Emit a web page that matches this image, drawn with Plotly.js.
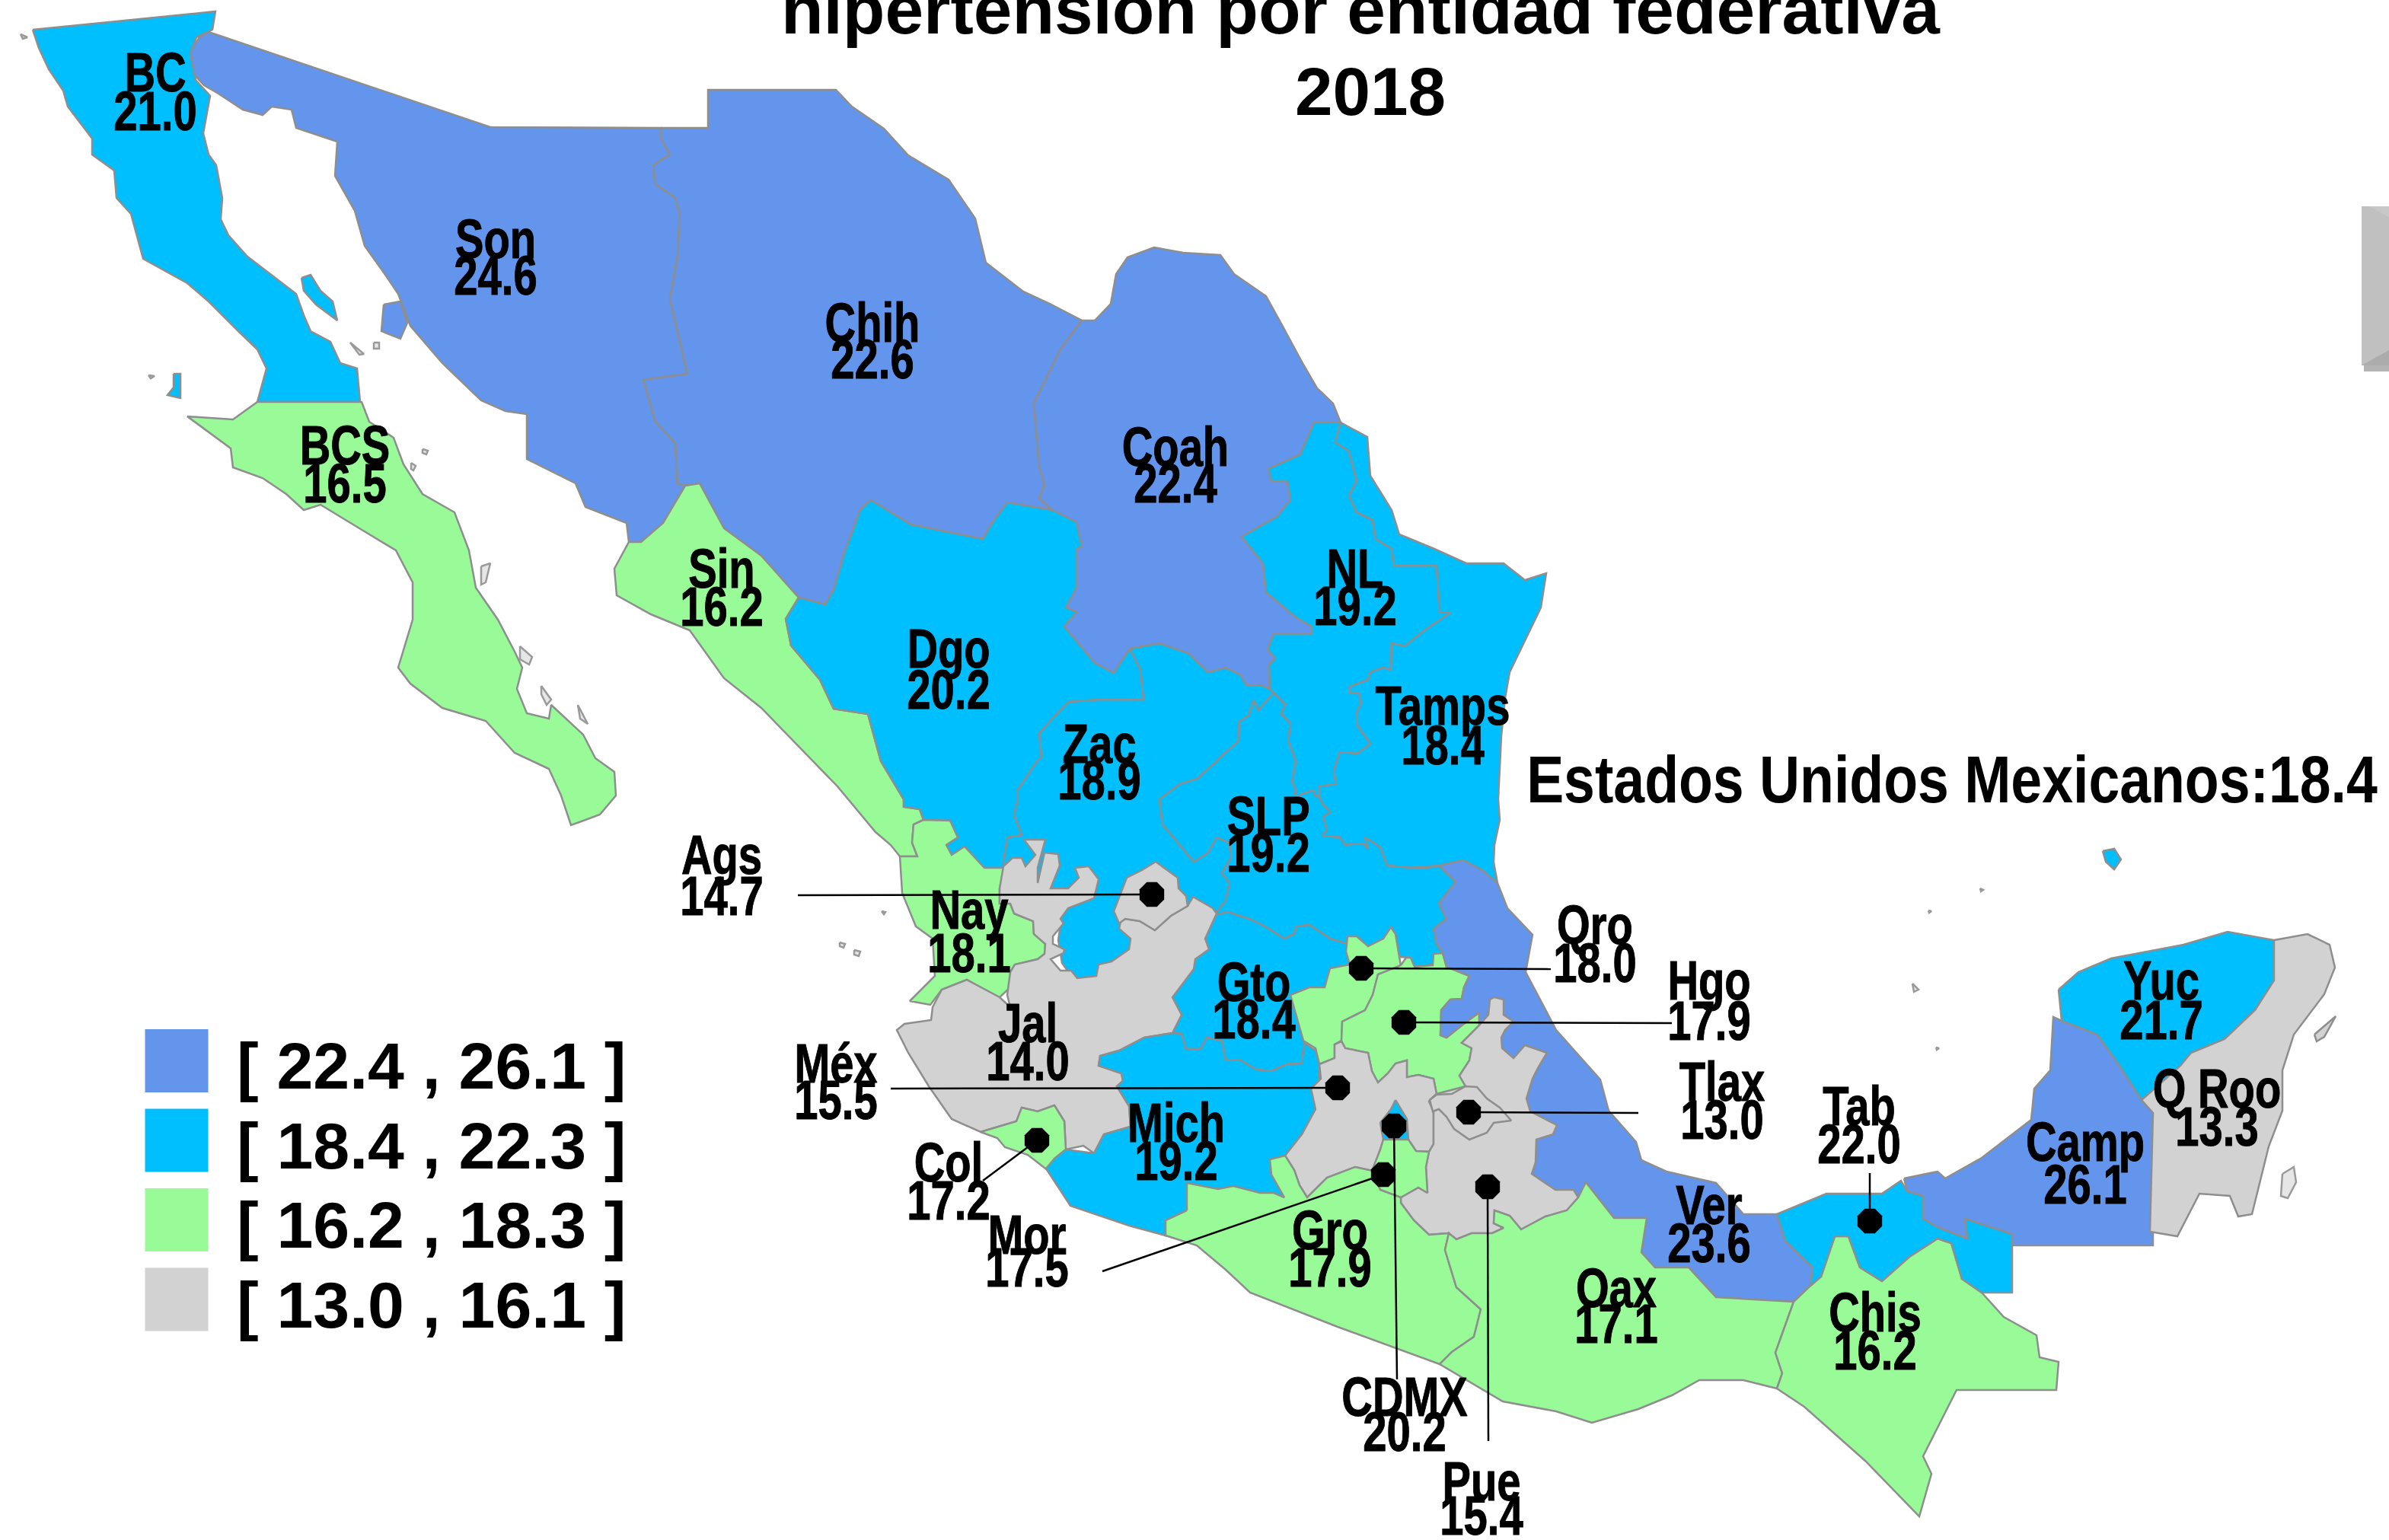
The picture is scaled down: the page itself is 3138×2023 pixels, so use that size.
<!DOCTYPE html>
<html><head><meta charset="utf-8">
<script src="https://cdn.plot.ly/plotly-3.0.1.min.js"></script>
<style>html,body{margin:0;padding:0;background:#fff;overflow:hidden}#chart{width:3138px;height:2023px}</style>
</head><body><div id="chart"></div>
<script>
// Rates by state
const stateCodes  = ["Zac","Son","Chih","Coah","BC","BCS","Sin","Dgo","NL","Tamps","SLP","Gto","Nay","Jal","Ags","Col","Mich","Qro","Hgo","Méx","Ver","Pue","Tlax","CDMX","Mor","Gro","Oax","Chis","Tab","Camp","Yuc","Q Roo"];
const stateValues = [18.9,24.6,22.6,22.4,21.0,16.5,16.2,20.2,19.2,18.4,19.2,18.4,18.1,14.0,14.7,17.2,19.2,18.0,17.9,15.5,23.6,15.4,13.0,20.2,17.5,17.9,17.1,16.2,22.0,26.1,21.7,13.3];

// Legend classes
const classLabels = ["[ 22.4 , 26.1 ]","[ 18.4 , 22.3 ]","[ 16.2 , 18.3 ]","[ 13.0 , 16.1 ]"];
const classMins   = [22.4,18.4,16.2,13.0];
const classColors = ["#6495ED","#00BFFF","#98FB98","#D2D2D2"];

// State outlines (map coordinates), one list of rings per state
const shapeBC = [[[43,39],[283,15],[279,39],[258,49],[250,70],[257,105],[276,126],[267,175],[274,203],[284,217],[292,260],[290,288],[300,309],[325,337],[389,386],[399,414],[408,435],[434,449],[447,477],[469,484],[473,528],[338,528],[350,484],[338,459],[313,435],[274,396],[246,372],[188,340],[172,281],[153,260],[150,224],[121,203],[121,182],[89,140],[83,119],[64,91],[51,63]],
 [[396,365],[408,361],[421,382],[437,396],[443,421],[415,400],[399,382]],[[228,491],[237,491],[237,523],[220,519],[228,509]]];
const shapeSon = [[[274,42],[644,167],[868,168],[868,182],[880,203],[858,217],[861,242],[887,260],[893,281],[890,337],[880,393],[893,449],[903,491],[845,499],[861,554],[887,582],[890,635],[900,638],[871,687],[842,712],[826,712],[823,687],[769,666],[756,635],[692,603],[692,544],[664,540],[632,526],[581,477],[539,428],[523,386],[504,358],[479,323],[466,277],[440,231],[443,186],[389,168],[383,144],[357,140],[345,151],[319,144],[287,123],[268,112],[255,98],[250,67],[262,49]],
 [[504,400],[526,396],[535,424],[526,445],[501,435]]];
const shapeChih = [[[868,168],[930,168],[930,118],[1098,118],[1119,140],[1161,169],[1193,204],[1246,236],[1281,287],[1295,345],[1344,383],[1379,399],[1421,421],[1393,459],[1358,530],[1365,612],[1372,638],[1365,654],[1382,670],[1323,660],[1302,689],[1291,708],[1246,699],[1196,689],[1144,657],[1130,670],[1109,727],[1095,775],[1084,794],[1049,785],[1000,730],[951,694],[919,635],[900,638],[890,635],[887,582],[861,554],[845,499],[903,491],[893,449],[880,393],[890,337],[893,281],[887,260],[861,242],[858,217],[880,203],[868,182]]];
const shapeCoah = [[[1421,421],[1438,421],[1459,399],[1466,360],[1481,338],[1516,325],[1554,332],[1603,335],[1621,360],[1663,389],[1684,427],[1712,479],[1730,510],[1751,530],[1761,555],[1726,555],[1708,597],[1666,616],[1670,632],[1691,632],[1695,657],[1677,679],[1631,705],[1659,740],[1663,778],[1701,810],[1723,823],[1723,833],[1673,833],[1665,853],[1675,865],[1667,873],[1668,905],[1657,900],[1637,900],[1630,887],[1610,877],[1587,883],[1561,858],[1523,845],[1484,852],[1463,884],[1438,871],[1398,823],[1414,804],[1400,798],[1414,772],[1414,721],[1421,718],[1414,686],[1382,670],[1365,654],[1372,638],[1365,612],[1358,530],[1393,459]]];
const shapeBCS = [[[338,528],[475,528],[485,554],[517,575],[530,610],[555,649],[597,673],[616,723],[625,772],[654,814],[676,856],[686,877],[679,905],[692,937],[721,944],[724,926],[766,965],[782,996],[807,1014],[809,1045],[788,1070],[750,1084],[737,1045],[721,1010],[676,989],[638,947],[581,930],[539,898],[523,877],[542,814],[542,765],[520,723],[472,694],[421,663],[399,670],[376,649],[345,628],[306,614],[303,589],[246,547],[306,551]]];
const shapeSin = [[[900,638],[919,635],[951,694],[1000,730],[1049,785],[1032,813],[1039,848],[1077,893],[1095,931],[1140,938],[1157,1000],[1187,1050],[1187,1060],[1208,1063],[1213,1077],[1200,1083],[1198,1107],[1205,1125],[1182,1125],[1170,1110],[1150,1093],[1100,1033],[1000,930],[951,891],[906,828],[855,807],[810,782],[807,747],[826,712],[842,712],[871,687]]];
const shapeDgo = [[[1049,785],[1084,794],[1095,775],[1109,727],[1130,670],[1144,657],[1196,689],[1246,699],[1291,708],[1302,689],[1323,660],[1382,670],[1414,686],[1421,718],[1414,721],[1414,772],[1400,798],[1414,804],[1398,823],[1438,871],[1463,884],[1484,852],[1498,880],[1502,919],[1442,919],[1403,922],[1365,963],[1368,995],[1362,1000],[1336,1039],[1337,1050],[1332,1070],[1342,1097],[1323,1100],[1318,1133],[1320,1140],[1293,1140],[1267,1112],[1250,1123],[1243,1110],[1258,1100],[1248,1078],[1213,1077],[1208,1063],[1187,1060],[1187,1050],[1157,1000],[1140,938],[1095,931],[1077,893],[1039,848],[1032,813]]];
const shapeZac = [[[1484,852],[1523,845],[1561,858],[1587,883],[1610,877],[1630,887],[1637,900],[1657,900],[1668,905],[1673,910],[1653,933],[1647,920],[1640,940],[1628,948],[1627,973],[1595,1003],[1573,1023],[1550,1030],[1523,1050],[1527,1083],[1568,1132],[1587,1120],[1598,1100],[1615,1107],[1617,1127],[1605,1147],[1615,1160],[1610,1183],[1595,1202],[1567,1178],[1500,1300],[1420,1300],[1395,1265],[1390,1235],[1395,1200],[1360,1150],[1320,1140],[1318,1133],[1323,1100],[1342,1097],[1332,1070],[1337,1050],[1336,1039],[1362,1000],[1368,995],[1365,963],[1403,922],[1442,919],[1502,919],[1498,880]]];
const shapeNL = [[[1726,555],[1761,555],[1754,581],[1772,593],[1782,632],[1772,651],[1782,673],[1803,683],[1807,708],[1828,721],[1831,743],[1887,743],[1891,804],[1905,805],[1870,829],[1845,849],[1828,845],[1827,880],[1817,877],[1800,883],[1797,893],[1773,902],[1773,910],[1785,910],[1788,923],[1782,937],[1783,953],[1800,977],[1783,990],[1760,988],[1752,1012],[1755,1030],[1733,1033],[1733,1047],[1727,1045],[1725,1038],[1710,1043],[1700,1050],[1702,1037],[1697,1027],[1702,1000],[1692,973],[1695,950],[1683,938],[1688,925],[1673,910],[1668,905],[1667,873],[1675,865],[1665,853],[1673,833],[1723,833],[1723,823],[1701,810],[1663,778],[1659,740],[1631,705],[1677,679],[1695,657],[1691,632],[1670,632],[1666,616],[1708,597]]];
const shapeTamps = [[[1761,555],[1796,574],[1800,625],[1828,670],[1838,702],[1884,721],[1926,740],[1975,740],[2003,762],[2031,753],[2024,798],[1996,855],[1983,883],[1977,917],[1972,967],[1968,1050],[1970,1077],[1963,1110],[1962,1133],[1967,1160],[1947,1143],[1922,1130],[1890,1137],[1853,1140],[1822,1137],[1813,1113],[1793,1100],[1797,1115],[1790,1108],[1767,1110],[1760,1100],[1737,1098],[1743,1090],[1738,1073],[1747,1067],[1738,1057],[1733,1047],[1733,1033],[1755,1030],[1752,1012],[1760,988],[1783,990],[1800,977],[1783,953],[1782,937],[1788,923],[1785,910],[1773,910],[1773,902],[1797,893],[1800,883],[1817,877],[1827,880],[1828,845],[1845,849],[1870,829],[1905,805],[1891,804],[1887,743],[1831,743],[1828,721],[1807,708],[1803,683],[1782,673],[1772,651],[1782,632],[1772,593],[1754,581]]];
const shapeSLP = [[[1673,910],[1688,925],[1683,938],[1695,950],[1692,973],[1702,1000],[1697,1027],[1702,1037],[1700,1050],[1710,1043],[1725,1038],[1727,1045],[1733,1047],[1738,1057],[1747,1067],[1738,1073],[1743,1090],[1737,1098],[1760,1100],[1767,1110],[1790,1108],[1797,1115],[1793,1100],[1813,1113],[1822,1137],[1853,1140],[1875,1140],[1890,1137],[1912,1158],[1903,1170],[1890,1187],[1900,1207],[1883,1220],[1887,1240],[1895,1252],[1883,1253],[1882,1267],[1858,1270],[1853,1258],[1838,1257],[1833,1227],[1827,1218],[1817,1233],[1797,1243],[1782,1230],[1770,1230],[1770,1240],[1747,1233],[1720,1215],[1703,1217],[1700,1227],[1687,1233],[1663,1218],[1643,1208],[1613,1198],[1595,1202],[1610,1183],[1615,1160],[1605,1147],[1617,1127],[1615,1107],[1598,1100],[1587,1120],[1568,1132],[1527,1083],[1523,1050],[1550,1030],[1573,1023],[1595,1003],[1627,973],[1628,948],[1640,940],[1647,920],[1653,933]]];
const shapeGto = [[[1595,1202],[1613,1198],[1643,1208],[1663,1218],[1687,1233],[1700,1227],[1703,1217],[1720,1215],[1747,1233],[1770,1240],[1768,1250],[1773,1267],[1747,1272],[1740,1297],[1720,1297],[1695,1307],[1712,1367],[1713,1370],[1710,1397],[1690,1398],[1670,1407],[1650,1405],[1628,1392],[1610,1393],[1605,1367],[1585,1363],[1577,1378],[1558,1378],[1552,1358],[1540,1357],[1552,1333],[1540,1310],[1568,1273],[1570,1260],[1588,1247],[1583,1233],[1598,1200]]];
const shapeNay = [[[1213,1077],[1248,1078],[1258,1100],[1243,1110],[1250,1123],[1267,1112],[1293,1140],[1320,1140],[1313,1167],[1313,1187],[1327,1187],[1332,1200],[1357,1210],[1358,1227],[1373,1240],[1372,1253],[1363,1260],[1333,1267],[1327,1277],[1327,1297],[1313,1310],[1327,1325],[1313,1312],[1270,1287],[1237,1300],[1222,1320],[1195,1315],[1228,1282],[1225,1233],[1203,1217],[1185,1173],[1182,1125],[1205,1125],[1198,1107],[1200,1083]]];
const shapeJal = [[[1318,1138],[1330,1127],[1342,1127],[1347,1138],[1360,1123],[1345,1103],[1373,1103],[1363,1140],[1363,1160],[1372,1120],[1390,1122],[1392,1137],[1380,1167],[1403,1167],[1417,1153],[1412,1140],[1430,1138],[1443,1155],[1437,1180],[1403,1193],[1393,1207],[1397,1213],[1383,1230],[1383,1240],[1398,1247],[1397,1252],[1380,1260],[1393,1275],[1407,1275],[1415,1285],[1440,1282],[1443,1267],[1460,1263],[1483,1247],[1485,1233],[1470,1220],[1472,1210],[1478,1207],[1497,1210],[1517,1222],[1538,1203],[1560,1190],[1567,1178],[1593,1193],[1598,1200],[1583,1233],[1588,1247],[1570,1260],[1568,1273],[1540,1310],[1552,1333],[1540,1357],[1503,1363],[1470,1380],[1445,1387],[1443,1400],[1473,1410],[1475,1420],[1467,1427],[1483,1453],[1485,1480],[1450,1490],[1437,1515],[1423,1505],[1400,1510],[1398,1473],[1385,1452],[1363,1460],[1342,1455],[1335,1473],[1288,1487],[1250,1470],[1220,1427],[1193,1383],[1178,1353],[1188,1345],[1223,1340],[1225,1323],[1237,1300],[1270,1287],[1313,1310],[1327,1323],[1323,1307],[1327,1277],[1333,1267],[1363,1260],[1372,1253],[1373,1240],[1358,1227],[1357,1210],[1332,1200],[1327,1187],[1313,1187],[1313,1167]]];
const shapeAgs = [[[1463,1197],[1480,1153],[1500,1143],[1518,1132],[1547,1153],[1548,1167],[1558,1177],[1560,1190],[1538,1203],[1517,1222],[1497,1210],[1478,1207],[1470,1213]]];
const shapeCol = [[[1288,1487],[1335,1473],[1342,1455],[1363,1460],[1385,1452],[1398,1473],[1400,1510],[1385,1522],[1377,1538],[1350,1517],[1320,1507],[1310,1495]]];
const shapeMich = [[[1400,1510],[1437,1515],[1450,1490],[1485,1480],[1483,1453],[1467,1427],[1475,1420],[1473,1410],[1443,1400],[1445,1387],[1470,1380],[1503,1363],[1540,1357],[1552,1358],[1558,1378],[1577,1378],[1585,1363],[1605,1367],[1610,1393],[1628,1392],[1650,1405],[1670,1407],[1690,1398],[1710,1397],[1713,1370],[1728,1380],[1733,1398],[1733,1417],[1728,1457],[1710,1490],[1688,1518],[1668,1523],[1670,1543],[1687,1573],[1673,1567],[1655,1567],[1620,1558],[1600,1562],[1559,1554],[1559,1590],[1531,1603],[1531,1623],[1483,1610],[1406,1584],[1393,1564],[1374,1535],[1385,1522]]];
const shapeQro = [[[1770,1230],[1782,1230],[1797,1243],[1817,1233],[1827,1218],[1833,1227],[1838,1257],[1840,1268],[1823,1277],[1810,1280],[1803,1307],[1793,1327],[1763,1342],[1762,1367],[1753,1372],[1753,1390],[1733,1398],[1728,1377],[1712,1367],[1695,1307],[1720,1297],[1740,1297],[1747,1272],[1773,1267],[1768,1250]]];
const shapeHgo = [[[1840,1268],[1847,1258],[1853,1258],[1858,1270],[1882,1268],[1883,1253],[1895,1252],[1900,1270],[1930,1282],[1923,1297],[1920,1312],[1905,1313],[1893,1327],[1892,1360],[1900,1363],[1920,1347],[1943,1330],[1943,1347],[1920,1370],[1933,1377],[1930,1393],[1917,1413],[1925,1427],[1907,1437],[1887,1437],[1883,1417],[1863,1412],[1848,1415],[1848,1393],[1833,1397],[1823,1410],[1810,1422],[1802,1407],[1797,1383],[1767,1377],[1762,1367],[1763,1342],[1793,1327],[1803,1307],[1810,1280]]];
const shapeMex = [[[1733,1398],[1753,1390],[1753,1372],[1762,1368],[1767,1377],[1797,1383],[1802,1407],[1810,1422],[1823,1410],[1833,1397],[1848,1393],[1848,1415],[1863,1412],[1883,1417],[1887,1437],[1877,1447],[1883,1460],[1883,1503],[1877,1513],[1860,1512],[1850,1497],[1817,1497],[1813,1510],[1803,1538],[1780,1533],[1743,1547],[1717,1573],[1707,1557],[1700,1537],[1688,1518],[1710,1490],[1728,1457],[1722,1430],[1735,1417]]];
const shapeVer = [[[1890,1137],[1922,1130],[1947,1143],[1967,1160],[1980,1193],[2013,1228],[2004,1277],[2044,1353],[2102,1418],[2113,1459],[2149,1500],[2156,1524],[2189,1539],[2254,1554],[2290,1595],[2334,1595],[2345,1630],[2381,1665],[2378,1689],[2356,1710],[2254,1704],[2218,1665],[2174,1665],[2156,1645],[2163,1600],[2120,1600],[2083,1553],[2073,1573],[2067,1563],[2043,1563],[2012,1542],[2017,1527],[2018,1497],[2040,1490],[2045,1478],[2010,1460],[2005,1443],[2013,1417],[2020,1403],[2032,1383],[2003,1373],[1988,1390],[1973,1377],[1972,1363],[1977,1353],[1988,1342],[1975,1333],[1975,1313],[1963,1310],[1957,1313],[1955,1333],[1943,1347],[1943,1330],[1920,1347],[1900,1363],[1892,1360],[1893,1327],[1905,1313],[1920,1312],[1923,1297],[1930,1282],[1900,1270],[1895,1252],[1887,1240],[1883,1220],[1900,1207],[1890,1187],[1903,1170],[1912,1158]]];
const shapePue = [[[1963,1310],[1975,1313],[1975,1333],[1988,1342],[1977,1353],[1972,1363],[1973,1377],[1988,1390],[2003,1373],[2032,1383],[2020,1403],[2013,1417],[2005,1443],[2010,1460],[2045,1478],[2040,1490],[2018,1497],[2017,1527],[2012,1542],[2043,1563],[2067,1563],[2073,1573],[2058,1590],[2030,1598],[1998,1615],[1983,1597],[1963,1590],[1962,1607],[1975,1613],[1960,1620],[1933,1620],[1913,1628],[1903,1620],[1877,1622],[1857,1603],[1840,1580],[1840,1573],[1863,1560],[1875,1567],[1873,1533],[1877,1513],[1883,1503],[1883,1460],[1878,1445],[1887,1437],[1925,1427],[1917,1413],[1930,1393],[1933,1377],[1920,1370],[1943,1347],[1955,1333],[1957,1313]]];
const shapeTlax = [[[1878,1445],[1887,1438],[1907,1437],[1925,1427],[1940,1428],[1953,1443],[1970,1455],[1985,1472],[1962,1475],[1953,1488],[1930,1497],[1910,1483],[1900,1467],[1890,1457],[1882,1460]]];
const shapeCDMX = [[[1833,1445],[1848,1470],[1850,1497],[1817,1497],[1813,1475],[1827,1457]]];
const shapeMor = [[[1817,1497],[1850,1497],[1860,1512],[1877,1513],[1873,1533],[1875,1567],[1863,1560],[1840,1573],[1813,1563],[1800,1543],[1813,1510]]];
const shapeGro = [[[1559,1590],[1559,1554],[1600,1562],[1620,1558],[1655,1567],[1673,1567],[1687,1573],[1670,1543],[1668,1523],[1688,1518],[1700,1537],[1707,1557],[1717,1573],[1743,1547],[1780,1533],[1803,1538],[1813,1563],[1840,1573],[1840,1580],[1857,1603],[1877,1622],[1903,1620],[1898,1642],[1913,1691],[1945,1720],[1936,1756],[1907,1776],[1891,1792],[1757,1743],[1642,1698],[1610,1668],[1572,1636],[1531,1623],[1531,1603]]];
const shapeOax = [[[2356,1710],[2254,1704],[2218,1665],[2174,1665],[2156,1645],[2163,1600],[2120,1600],[2083,1553],[2073,1573],[2058,1590],[2030,1598],[1998,1615],[1983,1597],[1963,1590],[1962,1607],[1975,1613],[1960,1620],[1933,1620],[1913,1628],[1903,1620],[1898,1642],[1913,1691],[1945,1720],[1936,1756],[1907,1776],[1891,1792],[1974,1841],[2044,1854],[2091,1869],[2152,1851],[2196,1833],[2232,1813],[2290,1813],[2334,1824],[2341,1804],[2332,1777]]];
const shapeChis = [[[2378,1689],[2392,1677],[2410,1624],[2428,1624],[2443,1665],[2472,1683],[2508,1651],[2545,1627],[2563,1633],[2577,1680],[2603,1698],[2632,1730],[2675,1754],[2679,1783],[2704,1789],[2701,1826],[2570,1826],[2526,1913],[2537,1936],[2521,1992],[2450,1919],[2370,1848],[2334,1824],[2341,1804],[2332,1777],[2356,1710]]];
const shapeTab = [[[2334,1595],[2399,1568],[2472,1568],[2497,1551],[2505,1565],[2526,1571],[2526,1601],[2545,1612],[2584,1627],[2581,1601],[2643,1621],[2643,1698],[2603,1698],[2577,1680],[2563,1633],[2545,1627],[2508,1651],[2472,1683],[2443,1665],[2428,1624],[2410,1624],[2392,1677],[2378,1689],[2381,1665],[2345,1630]]];
const shapeCamp = [[[2501,1548],[2545,1539],[2555,1548],[2603,1521],[2668,1471],[2672,1430],[2693,1406],[2697,1336],[2708,1341],[2755,1359],[2784,1400],[2813,1445],[2828,1462],[2828,1636],[2643,1636],[2643,1621],[2581,1601],[2584,1627],[2545,1612],[2526,1601],[2526,1571],[2505,1565]]];
const shapeYuc = [[[2704,1300],[2730,1277],[2773,1259],[2868,1241],[2926,1224],[2987,1235],[2987,1288],[2962,1327],[2922,1365],[2878,1383],[2864,1400],[2813,1445],[2784,1400],[2755,1359],[2708,1341]],
 [[2762,1118],[2777,1115],[2786,1129],[2777,1142],[2766,1132]]];
const shapeQRoo = [[[2987,1235],[3031,1227],[3060,1241],[3067,1271],[3053,1306],[3013,1359],[2998,1406],[2998,1459],[2980,1506],[2958,1595],[2940,1598],[2929,1571],[2889,1568],[2860,1624],[2824,1618],[2828,1462],[2813,1445],[2864,1400],[2878,1383],[2922,1365],[2962,1327],[2987,1288]],
 [[3040,1359],[3068,1335],[3053,1362],[3043,1368]]];
const stateShapes = [shapeZac,shapeSon,shapeChih,shapeCoah,shapeBC,shapeBCS,shapeSin,shapeDgo,shapeNL,shapeTamps,shapeSLP,shapeGto,shapeNay,shapeJal,shapeAgs,shapeCol,shapeMich,shapeQro,shapeHgo,shapeMex,shapeVer,shapePue,shapeTlax,shapeCDMX,shapeMor,shapeGro,shapeOax,shapeChis,shapeTab,shapeCamp,shapeYuc,shapeQRoo];

// Tiny islands, drawn only as grey specks
const isletRings = [[[711,901],[724,919],[718,926],[711,912]],[[759,926],[772,951],[762,944]],[[683,849],[699,863],[695,873],[683,866]],[[632,744],[644,740],[638,765],[632,768]],[[555,590],[562,592],[560,597],[555,595]],[[540,608],[546,612],[543,618],[540,616]],[[460,450],[478,465],[472,466]],[[491,450],[498,450],[498,458],[491,458]],[[27,45],[36,49],[30,51]],[[195,493],[203,494],[198,497]],[[1103,1238],[1110,1240],[1108,1245],[1103,1243]],[[1122,1248],[1130,1250],[1128,1256],[1122,1254]],[[1158,1197],[1163,1198],[1161,1201]],[[2512,1292],[2520,1300],[2514,1303]],[[2601,1167],[2605,1169],[2602,1171]],[[2533,1196],[2537,1197],[2534,1199]],[[2543,1376],[2547,1377],[2544,1379]],[[2998,1542],[3013,1533],[3016,1553],[3005,1574],[2996,1571]]];

// Label anchors: code x, code y, value y (map coordinates)
const labelX  = [1444,651,1146,1544,204,453,948,1246,1780,1895,1666,1647,1273,1350,948,1246,1545,2095,2245,1098,2245,1946,2262,1845,1349,1747,2123,2463,2442,2739,2839,2912];
const labelY  = [980,317,427,590,98,588,750,855,750,930,1075,1293,1198,1347,1126,1530,1478,1218,1291,1400,1586,1949,1424,1838,1625,1619,1695,1727,1456,1503,1291,1433];
const valueY  = [1028,365,475,638,149,638,800,909,799,982,1123,1342,1255,1397,1180,1580,1528,1268,1344,1448,1636,1994,1474,1884,1668,1668,1742,1777,1506,1559,1343,1483];

// Leader lines for small states
const leaderCodes = ["Ags","Qro","Hgo","Méx","Tlax","CDMX","Mor","Pue","Col","Tab"];
const leaderDotX  = [1513,1788,1844,1757,1929,1831,1817,1954,1362,2456];
const leaderDotY  = [1175,1272,1343,1429,1461,1479,1543,1559,1498,1604];
const leaderEndX  = [1048,2037,2196,1170,2152,1835,1448,1955,1291,2456];
const leaderEndY  = [1176,1273,1344,1430,1462,1812,1670,1893,1551,1541];

const titleLine1 = "hipertensión por entidad federativa";
const titleLine2 = "2018";
const nationalLabel = "Estados Unidos Mexicanos:18.4";

function colorFor(v){ for(let i=0;i<classMins.length;i++){ if(v>=classMins[i]) return classColors[i]; } return classColors[3]; }
const boldSans = {family:'"Liberation Sans",Arial,sans-serif', weight:700, color:'#000'};
const traces = [];
function ringsToXY(rings){
  const xs=[],ys=[];
  rings.forEach(r=>{ r.forEach(p=>{xs.push(p[0]);ys.push(p[1]);}); xs.push(r[0][0]); ys.push(r[0][1]); xs.push(null); ys.push(null); });
  return [xs,ys];
}
stateShapes.forEach((rings,i)=>{
  const [xs,ys]=ringsToXY(rings);
  traces.push({type:'scatter',mode:'lines',x:xs,y:ys,fill:'toself',fillcolor:colorFor(stateValues[i]),
    line:{color:'#8e8e8e',width:2.5},name:stateCodes[i],hoverinfo:'name',showlegend:false});
});
const isletXY = ringsToXY(isletRings);
traces.push({type:'scatter',mode:'lines',x:isletXY[0],y:isletXY[1],fill:'toself',fillcolor:'#e6e6e6',line:{color:'#9a9a9a',width:2.5},hoverinfo:'skip',showlegend:false});

// leader lines
const lx=[],ly=[];
leaderCodes.forEach((c,i)=>{ lx.push(leaderDotX[i],leaderEndX[i],null); ly.push(leaderDotY[i],leaderEndY[i],null); });
traces.push({type:'scatter',mode:'lines',x:lx,y:ly,line:{color:'#000',width:2.5},hoverinfo:'skip',showlegend:false});
traces.push({type:'scatter',mode:'markers',x:leaderDotX,y:leaderDotY,text:leaderCodes,hoverinfo:'text',
  marker:{symbol:'octagon',size:35,color:'#000',line:{width:0}},showlegend:false});

// state labels (two lines, squeezed horizontally after drawing)
const labelShift = 4;
const firstLabelTrace = traces.length;
traces.push({type:'scatter',mode:'text',x:labelX,y:labelY.map(v=>v+labelShift),text:stateCodes,textposition:'middle center',
  textfont:Object.assign({size:72},boldSans),hoverinfo:'skip',showlegend:false});
traces.push({type:'scatter',mode:'text',x:labelX,y:valueY.map(v=>v+labelShift),text:stateValues.map(v=>v.toFixed(1)),textposition:'middle center',
  textfont:Object.assign({size:72},boldSans),hoverinfo:'skip',showlegend:false});

// national label
const nationalTrace = traces.length;
traces.push({type:'scatter',mode:'text',x:[2564],y:[1032],text:[nationalLabel],textposition:'middle center',
  textfont:Object.assign({size:88},boldSans),hoverinfo:'skip',showlegend:false});

// legend
const legendSwatchY=[1393.5,1498,1602.5,1707];
traces.push({type:'scatter',mode:'markers',x:[232,232,232,232],y:legendSwatchY,
  marker:{symbol:'square',size:83,color:classColors,line:{width:0}},hoverinfo:'skip',showlegend:false});
traces.push({type:'scatter',mode:'text',x:[311,311,311,311],y:[1408,1513,1617,1722],text:classLabels,textposition:'middle right',
  textfont:Object.assign({size:86},boldSans),hoverinfo:'skip',showlegend:false});

const layout = {
  width:3138,height:2023,margin:{l:0,r:0,t:0,b:0,pad:0},
  paper_bgcolor:'#fff',plot_bgcolor:'#fff',showlegend:false,
  title:{text:titleLine1,x:1787/3138,xanchor:'center',xref:'paper',y:1-12/2023,yref:'container',yanchor:'middle',
    font:Object.assign({size:91},boldSans)},
  annotations:[{text:titleLine2,x:1800,y:120,xref:'x',yref:'y',xanchor:'center',yanchor:'middle',showarrow:false,
    font:Object.assign({size:89},boldSans)}],
  xaxis:{range:[0,3138],visible:false,fixedrange:true},
  yaxis:{range:[2023,0],visible:false,fixedrange:true},
  shapes:[
    {type:'rect',x0:3105,x1:3138,y0:480,y1:488,fillcolor:'#b4b4b4',line:{width:0},layer:'below'},
    {type:'rect',x0:3102,x1:3138,y0:271,y1:480,fillcolor:'#c0c0c0',line:{width:0},layer:'below'},
    {type:'path',path:'M3102,480 L3138,460 L3138,480 Z',fillcolor:'#acacac',line:{width:0},layer:'below'},
    {type:'path',path:'M3112,271 L3138,285 L3138,271 Z',fillcolor:'#c8c8c8',line:{width:0},layer:'below'}
  ]
};
Plotly.newPlot('chart',traces,layout,{displayModeBar:false,responsive:false,staticPlot:true}).then(gd=>{
  // The reference text is a horizontally condensed bold sans: squeeze about each text's centre.
  const layers = gd.querySelectorAll('.scatterlayer .trace');
  const squeeze = (el,s)=>{ const x=parseFloat(el.getAttribute('x')); el.setAttribute('transform',`translate(${x} 0) scale(${s} 1) translate(${-x} 0)`); };
  [firstLabelTrace,firstLabelTrace+1].forEach(i=>{ layers[i].querySelectorAll('text').forEach(el=>{ squeeze(el,0.78); el.style.stroke='#000'; el.style.strokeWidth='1px'; }); });
  layers[nationalTrace].querySelectorAll('text').forEach(el=>squeeze(el,1118/el.getComputedTextLength()));
});
</script></body></html>
